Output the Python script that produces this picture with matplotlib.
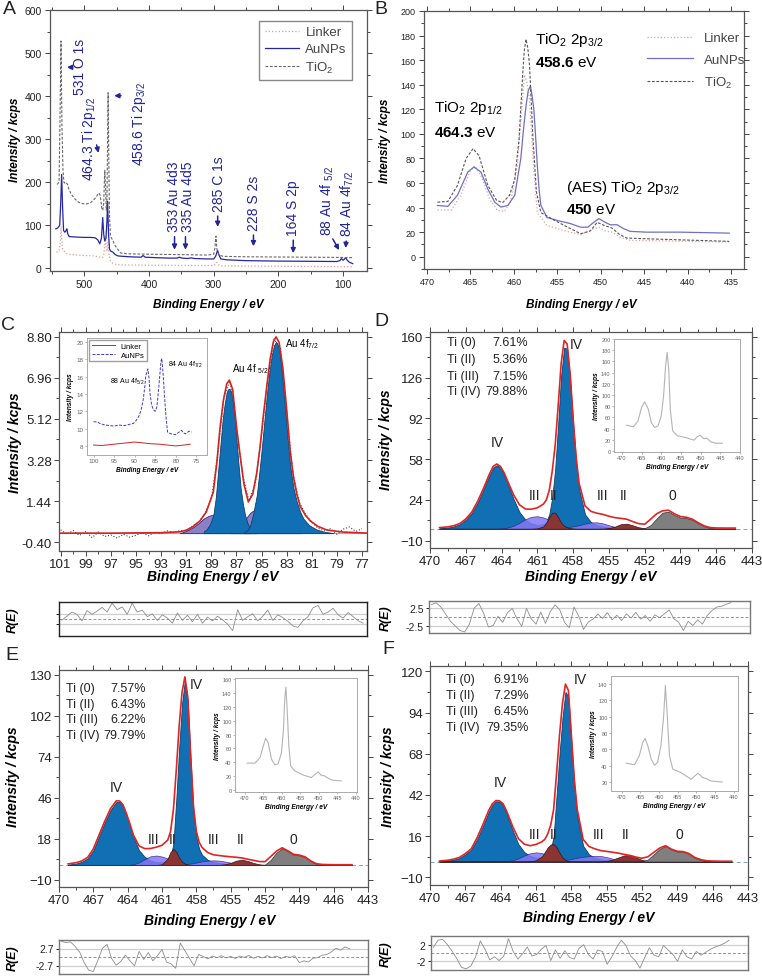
import matplotlib
matplotlib.use("Agg")
import matplotlib.pyplot as plt
from matplotlib.ticker import AutoMinorLocator

plt.rcParams["font.family"] = ["Liberation Sans", "DejaVu Sans"]
plt.rcParams["mathtext.fontset"] = "custom"
plt.rcParams["mathtext.rm"] = "Liberation Sans"
plt.rcParams["mathtext.it"] = "Liberation Sans:italic"
plt.rcParams["mathtext.bf"] = "Liberation Sans:bold"

# ---------------- panel A : survey spectra (as drawn in the picture)
a_au_x = [544, 541, 538, 536.5, 535, 533.5, 532, 530, 528, 527, 525.5, 523.5, 515, 500, 490, 483,
          479, 476, 473.5, 471.5, 470, 468.5, 466.5, 465, 464, 462.5, 461, 459, 456, 452, 448, 440,
          430, 412, 409, 406, 390, 370, 356, 353, 349, 340, 335, 330, 310, 300, 297, 294, 291.5,
          289, 280, 250, 200, 150, 110, 105, 102.5, 100, 97.5, 96, 94, 91, 88, 85]
a_au_y = [92, 94, 100, 150, 218, 140, 88, 84, 88, 92, 80, 74, 73, 72, 72, 71,
          66, 57, 70, 118, 80, 64, 70, 110, 155, 80, 45, 40, 38, 32, 29, 28,
          27, 26, 30, 26, 25, 24, 24, 26, 24, 23, 24.5, 23, 22, 22, 28, 42, 30,
          22, 20, 18, 17, 16.5, 16, 18, 23, 19, 22, 25, 20, 15, 13, 11]
a_ti_x = [542, 539, 537.5, 536, 534.5, 533, 531.5, 530, 528, 526, 524, 520, 515, 510, 505, 500,
          495, 490, 485, 481, 478, 476, 474.5, 473, 471.5, 470, 469, 468.3, 467.2, 466, 465, 464,
          463.2, 462.2, 461, 459.5, 457, 452, 447, 444, 435, 400, 350, 310, 300, 298, 296.5, 295,
          292, 285, 250, 200, 150, 100, 90, 85]
a_ti_y = [195, 200, 350, 528, 330, 230, 200, 198, 200, 195, 185, 172, 162, 155, 151, 150,
          150, 153, 160, 167, 175, 172, 160, 140, 135, 150, 200, 228, 190, 135, 150, 300,
          408, 260, 120, 75, 68, 52, 42, 36, 34, 33, 32, 31, 33, 48, 75, 45,
          31, 28, 27, 26.5, 26, 25.5, 25, 25]
a_li_x = [543, 539, 537, 536, 535, 533.5, 531, 527, 520, 500, 485, 478, 472, 470, 468, 467,
          466, 464.5, 463.5, 462, 460, 456, 450, 440, 400, 300, 297, 295, 293, 290, 250, 200,
          150, 100, 85]
a_li_y = [38, 40, 60, 98, 70, 45, 40, 34, 32, 30, 29, 27, 25, 30, 60, 72,
          45, 40, 62, 35, 18, 12, 9, 8, 7.5, 6.5, 10, 14, 9, 6, 5.5, 5,
          4.5, 4, 4]

# ---------------- panel B : Ti 2p region
b_au_x = [468.8, 467.6, 466.5, 465.3, 464.6, 463.8, 463.0, 462.2, 461.5, 460.7, 459.9, 459.2,
          458.9, 458.6, 458.35, 458.1, 457.9, 457.7, 457.5, 457.3, 457.1, 456.9, 456.2, 455.0,
          453.5, 452.3, 451.5, 450.8, 450.2, 449.5, 448.9, 448.1, 447.4, 446.6, 444.7, 440.9, 435.2]
b_au_y = [41.7, 41, 50, 69, 73, 69, 55, 44.4, 40.4, 41.7, 50, 80,
          103, 123, 135, 139, 131, 120, 98, 74, 55, 42, 32, 29.5,
          27, 24, 24, 28, 31, 28, 26, 26, 23, 20.6, 20, 20, 19.2]
b_ti_x = [468.8, 467.6, 466.5, 465.5, 464.7, 464.0, 463.0, 462.0, 461.3, 460.5, 459.9, 459.4,
          459.0, 458.8, 458.6, 458.4, 458.2, 457.8, 457.4, 456.9, 455.3, 453.8, 452.3, 451.2,
          450.4, 449.6, 448.7, 447.8, 447.0, 444.7, 435.2]
b_ti_y = [44.4, 45, 58, 80, 88, 82, 58, 46, 44, 50, 63, 96,
          147, 168, 177, 170, 156, 96, 52.6, 36, 29.5, 24, 18.7, 21,
          28, 25.5, 23.3, 17.9, 15.2, 14.6, 12.5]
b_li_x = [468.8, 467.2, 466.1, 465.1, 464.5, 463.8, 462.8, 461.9, 461.1, 460.4, 459.6, 459.0,
          458.8, 458.5, 458.2, 457.7, 457.3, 456.2, 454.3, 452.3, 450.8, 450.2, 449.5, 448.7,
          447.8, 446.6, 435.2]
b_li_y = [38, 38, 50, 69, 74, 66, 47, 37.7, 36.9, 44.4, 74, 128,
          148, 142, 128, 69, 36, 25.5, 21.4, 17.9, 22.8, 24, 21, 20,
          16, 13.3, 12]

# ---------------- panel C : Au 4f fit
c_data_x = [101, 100.5, 100, 99.5, 99, 98.5, 98, 97.5, 97, 96.5, 96, 95.5, 95, 94.5, 94, 93.5,
            93, 92.5, 92, 91.5, 91, 90.5, 90, 89.5, 89, 88.5, 88, 87.5, 87, 86.5, 86, 85.5,
            85, 84.5, 84, 83.5, 83, 82.5, 82, 81.5, 81, 80.5, 80, 79.5, 79, 78.5, 78, 77.5, 77]
c_data_y = [0.15, -0.05, 0.12, -0.10, 0.08, -0.20, 0.05, -0.15, -0.08, -0.22, -0.05, -0.18,
            -0.10, 0.02, -0.12, 0.05, -0.02, 0.10, 0.03, 0.12, 0.10, 0.32, 0.5, 0.9, 1.5, 3.5,
            6.1, 6.8, 4.8, 2.6, 1.45, 2.2, 4.4, 6.9, 8.7, 8.3, 5.4, 2.7, 1.4, 0.85, 0.5, 0.22,
            0.1, 0.2, -0.05, 0.18, 0.28, 0.08, 0.2]
c_env_x = [101.0, 97.0, 93.0, 91.5, 90.97, 90.44, 89.90, 89.4, 88.84, 88.55, 88.31, 88.04, 87.77,
           87.56, 87.30, 86.98, 86.71, 86.4, 86.05, 85.7, 85.38, 85.11, 84.85, 84.58, 84.3, 84.05,
           83.84, 83.6, 83.3, 82.99, 82.72, 82.45, 82.19, 81.92, 81.5, 81.12, 80.5, 79.79, 78.5, 76.6]
c_env_y = [0.0, 0.0, 0.02, 0.06, 0.14, 0.30, 0.55, 0.95, 1.85, 3.2, 4.7, 5.95, 6.7,
           6.86, 6.45, 4.7, 3.5, 2.2, 1.4, 1.75, 2.7, 3.9, 5.3, 6.6, 7.85, 8.6,
           8.80, 8.55, 7.4, 5.5, 3.7, 2.5, 1.75, 1.2, 0.8, 0.55, 0.3, 0.14, 0.05, 0.0]
c_b2_x = [89.6, 89.37, 89.1, 88.84, 88.64, 88.44, 88.25, 88.09, 87.92, 87.77, 87.66, 87.56,
          87.45, 87.30, 87.14, 86.98, 86.82, 86.66, 86.48, 86.31, 86.1, 85.91, 85.6, 85.38]
c_b2_y = [0.08, 0.17, 0.40, 0.80, 1.6, 2.89, 4.1, 5.13, 5.85, 6.33, 6.45, 6.48,
          6.38, 6.03, 5.2, 4.09, 3.0, 1.99, 1.3, 0.80, 0.42, 0.20, 0.06, 0.0]
c_b1_x = [86.4, 86.1, 85.91, 85.65, 85.38, 85.18, 84.98, 84.78, 84.58, 84.38, 84.18, 84.0, 83.84,
          83.68, 83.52, 83.32, 83.12, 82.92, 82.72, 82.45, 82.19, 81.92, 81.65, 81.2, 80.59, 80.0, 79.26]
c_b1_y = [0.02, 0.15, 0.34, 0.9, 1.69, 2.7, 3.79, 5.0, 6.18, 7.2, 7.98, 8.42, 8.58,
          8.42, 7.98, 6.9, 5.58, 4.25, 3.04, 2.0, 1.4, 0.95, 0.64, 0.35, 0.16, 0.06, 0.0]
c_p1_x = [91.5, 91.0, 90.44, 90.0, 89.64, 89.2, 88.84, 88.45, 88.04, 87.6, 87.24, 86.8, 86.44, 85.9]
c_p1_y = [0.0, 0.1, 0.27, 0.45, 0.64, 0.78, 0.83, 0.78, 0.64, 0.45, 0.27, 0.12, 0.06, 0.0]
c_p2_x = [87.5, 87.1, 86.71, 86.3, 85.91, 85.55, 85.25, 84.9, 84.58, 84.2, 83.78, 83.4, 82.99, 82.4, 81.9]
c_p2_y = [0.0, 0.14, 0.34, 0.62, 0.91, 1.05, 1.10, 1.02, 0.80, 0.55, 0.34, 0.17, 0.06, 0.02, 0.0]
c_ticks = [-0.40, 1.44, 3.28, 5.12, 6.96, 8.80]

# C inset
cin_au_x = [100, 99, 98.5, 97.5, 96.1, 95, 93.7, 92.5, 91.2, 90.3, 89.7, 88.9, 88.4, 87.9, 87.5,
            87.3, 86.8, 86.5, 86.3, 85.9, 85.5, 85.0, 84.6, 84.4, 84.0, 83.6, 83.4, 83.1, 82.8,
            82.4, 82.0, 81.2, 80.0, 79.2, 78.6, 78.1, 77.6, 76.8, 76.1]
cin_au_y = [10.8, 10.75, 10.6, 10.45, 10.35, 10.3, 10.4, 10.35, 10.5, 10.6, 10.9, 11.5, 12.2, 13.4,
            15.0, 16.1, 16.9, 15.8, 14.2, 12.8, 12.2, 12.0, 12.5, 13.4, 15.5, 17.8, 18.1, 16.5,
            14.2, 11.5, 9.6, 9.4, 9.3, 9.6, 9.8, 9.5, 9.4, 9.7, 9.6]
cin_li_x = [100, 98, 96, 94, 92, 90, 88, 86, 84, 82, 80, 78, 76.5]
cin_li_y = [8.1, 8.05, 8.15, 8.25, 8.35, 8.45, 8.35, 8.25, 8.2, 8.1, 8.0, 8.1, 8.2]

# ---------------- panels D, E, F : Ti 2p fits (shared energy grid)
fit_x = [469.2, 468.5, 468.0, 467.5, 467.0, 466.5, 466.0, 465.5, 465.0, 464.7,
         464.4, 464.1, 463.8, 463.5, 463.0, 462.5, 462.0, 461.5, 461.0, 460.5,
         460.25, 460.0, 459.75, 459.5, 459.25, 459.0, 458.75, 458.5, 458.25, 458.0, 457.75,
         457.5, 457.0, 456.5, 456.0, 455.5, 455.0, 454.5, 454.0, 453.5, 453.0,
         452.5, 452.0, 451.5, 451.0, 450.5, 450.0, 449.5, 449.0, 448.5, 448.0,
         447.5, 447.0, 446.5, 446.0, 445.2, 444.4]

d_ti4 = [0.4, 1.0, 2.0, 3.8, 7.5, 13, 22, 33, 45, 51,
         53, 51, 45.5, 38, 25, 14, 7.5, 4.5, 3.2, 3.8,
         6, 12, 26, 50, 88, 128, 151, 150, 125, 88, 56,
         33, 12, 5.5, 3, 1.8, 1.2, 0.8, 0.6, 0.4, 0.3,
         0.2, 0.2, 0.1, 0.1, 0, 0, 0, 0, 0, 0,
         0, 0, 0, 0, 0, 0]
d_ti3 = [0, 0, 0, 0, 0, 0, 0, 0, 0, 0,
         0, 0.2, 0.5, 1, 2.5, 5, 8, 10, 10.5, 9.5,
         8.5, 7, 5.5, 4, 3, 2.2, 1.7, 1.5, 1.6, 2, 2.5,
         3, 4.3, 5.3, 5.4, 4.5, 3, 1.6, 0.7, 0.3, 0.1,
         0, 0, 0, 0, 0, 0, 0, 0, 0, 0,
         0, 0, 0, 0, 0, 0]
d_ti2 = [0, 0, 0, 0, 0, 0, 0, 0, 0, 0,
         0, 0, 0, 0, 0, 0, 0, 0, 0.3, 2,
         5, 9.5, 13.5, 13.5, 9.5, 5, 2.5, 1.2, 0.5, 0.2, 0,
         0, 0, 0, 0, 0.1, 0.6, 1.8, 3.8, 4.3, 2.9,
         1.3, 0.4, 0.1, 0, 0, 0, 0, 0, 0, 0,
         0, 0, 0, 0, 0, 0]
d_ti0 = [0, 0, 0, 0, 0, 0, 0, 0, 0, 0,
         0, 0, 0, 0, 0, 0, 0, 0, 0, 0,
         0, 0, 0, 0, 0, 0, 0, 0, 0, 0, 0,
         0, 0, 0, 0, 0, 0, 0, 0, 0, 0,
         0.1, 0.5, 3, 8.5, 13.5, 14.2, 11.5, 9.3, 9.0, 7.5,
         4.5, 2, 0.6, 0.2, 0, 0]
d_env = [1.0, 1.6, 2.6, 4.4, 8.2, 13.8, 23, 34, 46, 52,
         54, 52, 47, 40, 28.5, 20, 16.5, 16.3, 17.5, 20.5,
         24, 32, 48, 70, 103, 138, 157, 154, 129, 92, 60,
         38, 19, 14.5, 13, 12, 10.5, 9.3, 8.7, 8.0, 6,
         4.3, 3.8, 8, 12.5, 15, 15.5, 12.5, 10.2, 9.6, 8.0,
         5, 2.4, 1.0, 0.7, 0.6, 0.6]

e_ti4 = [0.3, 1.0, 2.2, 4.5, 10, 19.5, 29, 37.5, 43, 43,
         40, 34, 27, 19, 10, 5.5, 3, 2, 1.8, 2.8,
         5, 15, 45, 80, 110, 126, 112, 72, 37, 19, 11,
         7, 3.5, 2, 1.3, 0.9, 0.6, 0.4, 0.3, 0.2, 0.1,
         0, 0, 0, 0, 0, 0, 0, 0, 0, 0,
         0, 0, 0, 0, 0, 0]
e_ti3 = [0, 0, 0, 0, 0, 0, 0, 0, 0, 0,
         0, 0, 0.2, 0.5, 1.8, 4, 6, 6.5, 5.8, 4.5,
         3.6, 2.8, 2, 1.4, 1, 0.8, 0.8, 1, 1.3, 1.7, 2.1,
         2.5, 3.0, 3.2, 3.0, 2.4, 1.6, 0.8, 0.3, 0.1, 0,
         0, 0, 0, 0, 0, 0, 0, 0, 0, 0,
         0, 0, 0, 0, 0, 0]
e_ti2 = [0, 0, 0, 0, 0, 0, 0, 0, 0, 0,
         0, 0, 0, 0, 0, 0, 0, 0, 0.5, 4.5,
         9, 11, 9, 5, 2.2, 0.9, 0.3, 0.1, 0, 0, 0,
         0, 0, 0, 0.1, 0.5, 1.5, 3.0, 3.6, 2.8, 1.4,
         0.5, 0.1, 0, 0, 0, 0, 0, 0, 0, 0,
         0, 0, 0, 0, 0, 0]
e_ti0 = [0, 0, 0, 0, 0, 0, 0, 0, 0, 0,
         0, 0, 0, 0, 0, 0, 0, 0, 0, 0,
         0, 0, 0, 0, 0, 0, 0, 0, 0, 0, 0,
         0, 0, 0, 0, 0, 0, 0, 0, 0, 0,
         0, 0.3, 3.5, 8.5, 11.4, 9.3, 7, 6.6, 5.4, 2.5,
         0.7, 0.2, 0, 0, 0, 0]
e_env = [0.8, 1.6, 2.8, 5.2, 11, 20.5, 30, 38.5, 43.8, 43.8,
         41, 35, 28, 20.5, 13, 11.2, 11.3, 12.2, 13.5, 17,
         23, 38, 65, 95, 118, 128.5, 115, 75, 40, 23, 15.5,
         12, 8.5, 7, 6.5, 6.0, 5.6, 5.3, 4.8, 4.0, 3.2,
         2.4, 2.3, 5.8, 9.5, 11.8, 9.7, 7.3, 6.8, 5.6, 2.8,
         0.9, 0.4, 0.3, 0.2, 0.2, 0.2]

f_ti4 = [0.2, 0.6, 1.2, 2.2, 4.5, 7.5, 14, 22.5, 31.5, 35.8,
         38, 37.8, 35.5, 30.5, 20, 11, 6, 3.5, 2.5, 2.6,
         3.2, 4.5, 7.5, 16, 42, 68, 91, 107, 104, 76, 48,
         29, 10, 4.5, 2.4, 1.4, 0.9, 0.6, 0.4, 0.3, 0.2,
         0.1, 0, 0, 0, 0, 0, 0, 0, 0, 0,
         0, 0, 0, 0, 0, 0]
f_ti3 = [0, 0, 0, 0, 0, 0, 0, 0, 0, 0,
         0, 0, 0, 0.2, 0.8, 2, 3.8, 5.2, 5.8, 5.4,
         4.6, 3.8, 2.9, 2.1, 1.5, 1.1, 1.0, 1.0, 1.2, 1.6, 2.0,
         2.4, 3.0, 3.4, 3.6, 3.5, 2.8, 1.8, 0.9, 0.4, 0.1,
         0, 0, 0, 0, 0, 0, 0, 0, 0, 0,
         0, 0, 0, 0, 0, 0]
f_ti2 = [0, 0, 0, 0, 0, 0, 0, 0, 0, 0,
         0, 0, 0, 0, 0, 0, 0, 0.1, 0.8, 3.2,
         6, 9, 10.8, 11, 9, 5.5, 2.6, 1.0, 0.3, 0.1, 0,
         0, 0, 0, 0, 0.1, 0.4, 1.2, 2.6, 3.9, 4.1,
         2.6, 1.0, 0.3, 0.1, 0, 0, 0, 0, 0, 0,
         0, 0, 0, 0, 0, 0]
f_ti0 = [0, 0, 0, 0, 0, 0, 0, 0, 0, 0,
         0, 0, 0, 0, 0, 0, 0, 0, 0, 0,
         0, 0, 0, 0, 0, 0, 0, 0, 0, 0, 0,
         0, 0, 0, 0, 0, 0, 0, 0, 0, 0,
         0, 0.2, 1.3, 4.5, 8, 9.8, 7.6, 6.3, 6.2, 4.8,
         2.2, 0.9, 0.3, 0.1, 0, 0]
f_env = [0.3, 0.8, 1.5, 2.6, 5, 8, 15, 23.5, 32.5, 36.5,
         38.5, 38.3, 36.5, 32, 22.5, 14.5, 11, 10, 10.8, 12.5,
         14, 17.5, 23, 33, 56, 80, 100, 112, 108, 80, 52,
         33, 14, 9.5, 8, 6.9, 6.4, 5.9, 5.3, 4.5, 3.8,
         2.8, 2.1, 3, 5.8, 8.5, 10, 7.8, 6.5, 6.3, 5,
         2.5, 1.2, 0.5, 0.3, 0.2, 0.2]

d_pct = ["7.61%", "5.36%", "7.15%", "79.88%"]
e_pct = ["7.57%", "6.43%", "6.22%", "79.79%"]
f_pct = ["6.91%", "7.29%", "6.45%", "79.35%"]
ti_states = ["Ti (0)", "Ti (II)", "Ti (III)", "Ti (IV)"]

# insets of D, E, F (raw Ti 2p spectra)
din_x = [468.75, 467.1, 465.9, 465.0, 464.2, 463.3, 462.5, 461.7, 460.8, 460.0, 459.4, 458.9, 458.5,
         458.1, 457.7, 457.1, 455.9, 453.8, 451.7, 450.8, 450.1, 449.3, 448.4, 447.4, 446.2, 444.5]
din_y = [46, 43, 53.7, 77.6, 87.8, 74.6, 50.7, 41.8, 44.8, 62.7, 98.5, 152, 176,
         146, 74.6, 35.8, 26.9, 23.9, 19.1, 25.7, 28, 22, 22.7, 16.1, 13.7, 13.7]
ein_x = [469.4, 467.3, 465.9, 465.0, 464.4, 463.7, 462.8, 461.9, 461.0, 460.1, 459.6, 459.2, 458.9,
         458.6, 458.1, 457.6, 456.5, 454.2, 452.0, 450.8, 450.2, 449.3, 448.4, 447.0, 446.1, 443.9]
ein_y = [39, 39, 47, 64, 74.5, 68, 44.7, 36.5, 38, 54, 83, 131, 148,
         121.6, 64, 35, 27.9, 22, 18.3, 23.6, 26.4, 21.6, 20.7, 15.9, 14.4, 13.5]
fin_x = [468.8, 466.6, 465.3, 464.4, 463.75, 463.0, 462.1, 461.25, 460.4, 459.5, 458.75, 458.3,
         457.9, 457.2, 456.3, 454.1, 451.4, 450.1, 449.5, 448.3, 447.4, 446.1, 443.0]
fin_y = [43, 41, 52, 68, 73.3, 64, 48, 40.5, 43.8, 64, 101, 138,
         109, 52, 35.6, 31.5, 23.3, 28.6, 30.7, 25.3, 24.5, 21.2, 20]

# residuals
res_x = [469.8, 469.4, 469.0, 468.6, 468.2, 467.8, 467.4, 467.0, 466.6, 466.2,
         465.8, 465.4, 465.0, 464.6, 464.2, 463.8, 463.4, 463.0, 462.6, 462.2,
         461.8, 461.4, 461.0, 460.6, 460.2, 459.8, 459.4, 459.0, 458.6, 458.2,
         457.8, 457.4, 457.0, 456.6, 456.2, 455.8, 455.4, 455.0, 454.6, 454.2,
         453.8, 453.4, 453.0, 452.6, 452.2, 451.8, 451.4, 451.0, 450.6, 450.2,
         449.8, 449.4, 449.0, 448.6, 448.2, 447.8, 447.4, 447.0, 446.6, 446.2,
         445.8, 445.4, 445.0, 444.6]
res_d = [3.5, 4.0, 2.8, 0.8, -1.2, -2.5, -3.8, -4.2, -2.0, 2.5,
         3.8, 1.0, -2.8, -2.4, 0.2, -1.5, 1.2, 2.4, -0.5, -2.6,
         2.4, -0.5, -2.0, 1.4, -1.8, 1.5, 3.4, 2.0, -1.5, -3.0,
         2.8, 0.2, -3.5, -1.4, -0.6, 0.8, -0.4, 1.2, -0.8, 0.5,
         -1.0, 0.9, -0.3, 1.3, -0.6, 0.4, -1.2, 0.6, -0.2, 0.9,
         2.0, -0.5, -1.5, -3.8, -1.2, -2.4, -0.8, -2.0, 0.4, 1.8,
         2.8, 3.0, 3.6, 4.0]
res_e = [5.0, 4.6, 4.8, 3.4, 1.6, -1.8, -4.2, -4.6, -1.0, 2.8,
         4.0, -0.5, -2.6, -1.4, 0.6, -1.2, -2.8, 1.8, -0.8, 1.4,
         -1.2, 0.4, 2.4, -1.6, -2.2, -3.6, 4.4, 2.0, -0.4, -2.8,
         0.8, 0.2, -0.6, 0.3, -0.2, 0.4, -0.3, 0.2, -0.5, 0.3,
         -0.1, 0.5, -0.4, 0.2, -0.3, 0.4, -0.2, 0.3, -0.5, 0.2,
         -0.1, 0.4, -1.8, -1.2, -1.6, -0.4, -0.2, 0.6, 0.8, 1.6,
         2.8, 2.2, 3.2, 2.6]
res_f = [1.5, 3.4, 3.6, 2.2, 0.5, -1.5, -3.8, -4.2, -3.4, -1.0,
         3.2, 1.0, -1.8, -1.0, -2.0, -0.8, 3.8, 0.4, -1.6, -0.2,
         1.6, -0.8, -0.4, 1.0, 2.0, -2.0, 0.8, -1.4, 0.6, -1.2,
         -1.6, 1.2, 2.2, -0.4, -1.6, 0.8, 0.4, -3.0, -1.0, 1.4,
         3.4, 2.0, -0.8, -2.0, -4.0, -1.2, 1.4, -0.6, -1.0, 2.0,
         0.8, -0.4, -2.2, 0.8, -1.0, -1.6, 0.4, -0.6, 0.2, 1.0,
         1.6, 2.0, 2.6, 3.4]
c_res_x = [100.9, 100.5, 100.1, 99.7, 99.3, 98.9, 98.5, 98.1, 97.7, 97.3,
           96.9, 96.5, 96.1, 95.7, 95.3, 94.9, 94.5, 94.1, 93.7, 93.3,
           92.9, 92.5, 92.1, 91.7, 91.3, 90.9, 90.5, 90.1, 89.7, 89.3,
           88.9, 88.5, 88.1, 87.7, 87.3, 86.9, 86.5, 86.1, 85.7, 85.3,
           84.9, 84.5, 84.1, 83.7, 83.3, 82.9, 82.5, 82.1, 81.7, 81.3,
           80.9, 80.5, 80.1, 79.7, 79.3, 78.9, 78.5, 78.1, 77.7, 77.3, 76.9]
res_c = [-0.5, 1.2, 3.0, 2.0, -0.8, 3.6, 2.0, 3.4, 5.0, 3.0,
         6.8, 4.0, 5.2, 2.0, 6.8, 3.0, 3.8, 1.0, 2.2, -0.6,
         1.8, 0.4, -1.8, 2.6, -0.6, 1.6, -1.2, 2.0, -1.8, 0.8,
         -0.8, 1.2, -0.4, -2.2, -5.0, 4.0, -0.6, 1.0, 2.2, -0.8,
         1.2, 3.8, -0.6, 1.8, 0.6, -1.0, -3.0, -3.6, -0.8, 1.0,
         4.8, 5.8, 2.0, 3.0, 4.6, 1.8, 0.4, 2.8, 1.0, -0.8, -1.8]

# ------------------------------------------------------------------
W, H = 762, 978
fig = plt.figure(figsize=(W / 100, H / 100), dpi=100)
NAVY = "#23239a"
BI = dict(fontweight="bold", fontstyle="italic")
TI_X = [470, 467, 464, 461, 458, 455, 452, 449, 446, 443]


def add_px(l, t, r, b):
    return fig.add_axes([l / W, 1 - b / H, (r - l) / W, (b - t) / H])


def ftext(x, y, s, **kw):
    fig.text(x / W, 1 - y / H, s, ha="center", va="center", **kw)


def style(ax, fs, pad=2.0):
    ax.xaxis.set_minor_locator(AutoMinorLocator(2))
    ax.yaxis.set_minor_locator(AutoMinorLocator(2))
    ax.tick_params(which="both", direction="out", labelsize=fs, top=True, right=True,
                   width=0.7, color="#444", labelcolor="#222", pad=pad)
    ax.tick_params(which="major", length=3.5)
    ax.tick_params(which="minor", length=2)
    for s in ax.spines.values():
        s.set_color("#555")
        s.set_linewidth(0.9)


def inset_style(ax, fs):
    ax.tick_params(which="both", direction="out", labelsize=fs, width=0.5, length=1.5,
                   color="#999", labelcolor="#666", pad=1)
    for s in ax.spines.values():
        s.set_color("#aaa")
        s.set_linewidth(0.7)


# ---- A
ax = add_px(50, 11, 367, 272)
ax.plot(a_li_x, a_li_y, color="#e49a9a", lw=0.9, ls=":", label="Linker")
ax.plot(a_au_x, a_au_y, color="#2626a6", lw=0.9, label="AuNPs")
ax.plot(a_ti_x, a_ti_y, color="#666666", lw=0.8, ls=(0, (2.5, 1.5)), label="TiO$_2$")
ax.set_xlim(553, 63)
ax.set_ylim(-6, 600)
ax.set_xticks([500, 400, 300, 200, 100])
ax.set_yticks([0, 100, 200, 300, 400, 500, 600])
style(ax, 7.5, pad=2.5)
leg = ax.legend(loc="upper right", bbox_to_anchor=(0.953, 0.958), borderaxespad=0,
                fontsize=9.5, handlelength=2.6, handletextpad=0.5, labelspacing=0.35,
                fancybox=False, edgecolor="#888", framealpha=1)
for t in leg.get_texts():
    t.set_color("#444")


def note(txt, tx, ty, p0, p1, va="center"):
    ax.text(tx, ty, txt, rotation=90, ha="center", va=va, color=NAVY, fontsize=10)
    ax.annotate("", xy=p1, xytext=p0,
                arrowprops=dict(arrowstyle="-|>", color=NAVY, lw=1.1, mutation_scale=7))


note("531 O 1s", 506.7, 471, (514, 467), (531, 467))
note("464.3 Ti 2p$_{1/2}$", 492.3, 304, (482, 293), (477, 262))
note("458.6 Ti 2p$_{3/2}$", 415.4, 339, (439, 401), (458, 401))
note("353 Au 4d3", 361.5, 86, (360.5, 80), (360.5, 37), va="bottom")
note("335 Au 4d5", 340, 86, (343.6, 80), (343.6, 37), va="bottom")
note("285 C 1s", 292.3, 134, (293.8, 128), (293.8, 90), va="bottom")
note("228 S 2s", 237.4, 90, (238.5, 84), (238.5, 45), va="bottom")
note("164 S 2p", 177, 78, (177, 72), (177, 29), va="bottom")
note("88 Au 4f $_{5/2}$", 124.6, 78, (118, 74), (104, 37), va="bottom")
note("84 Au 4f$_{7/2}$", 93.8, 76, (94.9, 70), (96.4, 41), va="bottom")
ftext(208, 305, "Binding Energy / eV", fontsize=8.5, **BI)
ftext(15, 140, "Intensity / kcps", fontsize=8.5, rotation=90, **BI)

# ---- B
ax = add_px(424, 12, 744, 270)
ax.plot(b_li_x, b_li_y, color="#e3a3a3", lw=0.9, ls=":", label="Linker")
ax.plot(b_au_x, b_au_y, color="#6f6fc4", lw=0.9, label="AuNPs")
ax.plot(b_ti_x, b_ti_y, color="#555555", lw=0.8, ls=(0, (2.5, 1.5)), label="TiO$_2$")
ax.set_xlim(470.35, 433.5)
ax.set_ylim(-10, 200)
ax.set_xticks([470, 465, 460, 455, 450, 445, 440, 435])
ax.set_yticks(list(range(0, 201, 20)))
style(ax, 6.5, pad=2.5)
leg = ax.legend(loc="upper left", bbox_to_anchor=(0.66, 0.965), frameon=False, fontsize=9.5,
                handlelength=3.5, labelspacing=0.7)
for t in leg.get_texts():
    t.set_color("#444")
ax.text(457.6, 177, "TiO$_2$ 2p$_{3/2}$", fontsize=11, va="center")
ax.text(457.6, 158.5, r"$\mathbf{458.6}$ eV", fontsize=11, va="center")
ax.text(469.2, 122, "TiO$_2$ 2p$_{1/2}$", fontsize=11, va="center")
ax.text(469.2, 101.6, r"$\mathbf{464.3}$ eV", fontsize=11, va="center")
ax.text(454.0, 57, "(AES) TiO$_2$ 2p$_{3/2}$", fontsize=11, va="center")
ax.text(454.0, 39, r"$\mathbf{450}$ eV", fontsize=11, va="center")
ftext(581, 305, "Binding Energy / eV", fontsize=8.5, **BI)
ftext(385, 141, "Intensity / kcps", fontsize=8.5, rotation=90, **BI)

# ---- C
ax = add_px(59, 333, 367, 552)
BLUE, BLUE_E = "#1170b4", "#0c3f6b"
ax.fill_between(c_p1_x, 0, c_p1_y, color="#8a80c8", ec="#352a7a", lw=0.6, zorder=2)
ax.fill_between(c_p2_x, 0, c_p2_y, color="#8a80c8", ec="#352a7a", lw=0.6, zorder=2)
ax.fill_between(c_b2_x, 0, c_b2_y, color=BLUE, ec=BLUE_E, lw=0.6, zorder=3)
ax.fill_between(c_b1_x, 0, c_b1_y, color=BLUE, ec=BLUE_E, lw=0.6, zorder=3)
ax.axhline(0, color="#9aaed0", lw=0.8, zorder=1)
ax.plot(c_data_x, c_data_y, color="#444", lw=0.8, ls=":", zorder=4)
ax.plot(c_env_x, c_env_y, color="#d42222", lw=1.2, zorder=5)
ax.set_xlim(101.13, 76.6)
ax.set_ylim(-0.8, 9.02)
ax.set_xticks(list(range(101, 76, -2)))
ax.set_yticks(c_ticks)
ax.set_yticklabels(["%.2f" % v for v in c_ticks])
style(ax, 9.5, pad=1.5)
ax.text(87.38, 7.38, "Au 4f $_{5/2}$", fontsize=7, va="center")
ax.text(83.12, 8.5, "Au 4f$_{7/2}$", fontsize=7, va="center")
ftext(213, 577, "Binding Energy / eV", fontsize=10, **BI)
ftext(15, 443, "Intensity / kcps", fontsize=10, rotation=90, **BI)

axi = add_px(87, 339, 207, 456)
axi.plot(cin_li_x, cin_li_y, color="#d42222", lw=0.7, label="Linker")
axi.plot(cin_au_x, cin_au_y, color="#3a3ad0", lw=0.7, ls=(0, (3, 1.5)), label="AuNPs")
axi.set_xlim(101.6, 72.4)
axi.set_ylim(6.95, 20.47)
axi.set_xticks([100, 95, 90, 85, 80, 75])
axi.set_yticks([8, 10, 12, 14, 16, 18, 20])
inset_style(axi, 4.5)
axi.set_xlabel("Binding Energy / eV", fontsize=4.8, labelpad=1.5, **BI)
axi.set_ylabel("Intensity / kcps", fontsize=4.8, labelpad=1.5, **BI)
axi.legend(loc="upper left", fontsize=5.5, handlelength=3, fancybox=False, edgecolor="#888",
           borderpad=0.3, labelspacing=0.2, borderaxespad=0.3)
axi.text(96.1, 15.5, "88 Au 4f$_{5/2}$", fontsize=5, va="center")
axi.text(81.9, 17.5, "84 Au 4f$_{7/2}$", fontsize=5, va="center")


# ---- D, E, F
def fit_panel(rect, comps, env, ylim, yticks, pct, layout):
    ax = add_px(*rect)
    ti4, ti3, ti2, ti0 = comps
    ax.axhline(0, color="#7fa6a6", lw=0.7, ls=(0, (4, 3)), zorder=1)
    ax.fill_between(fit_x, 0, ti4, color=BLUE, ec=BLUE_E, lw=0.6, zorder=2)
    ax.fill_between(fit_x, 0, ti3, color="#8478f4", alpha=0.85, ec="#2e2080", lw=0.5, zorder=3)
    ax.fill_between(fit_x, 0, ti2, color="#8a3434", ec="#3a1010", lw=0.5, zorder=4)
    ax.fill_between(fit_x, 0, ti0, color="#7f7f7f", ec="#333333", lw=0.5, zorder=4)
    ax.plot(fit_x, env, color="#e02424", lw=1.2, zorder=5)
    ax.set_xlim(470, 443)
    ax.set_ylim(*ylim)
    ax.set_xticks(TI_X)
    ax.set_yticks(yticks)
    style(ax, 9.5, pad=1.5)
    tx, px, rows, lab = layout
    for s, p, ry in zip(ti_states, pct, rows):
        ax.text(tx, ry, s, fontsize=9, va="center", color="#222")
        ax.text(px, ry, p, fontsize=9, va="center", ha="right", color="#222")
    for s, x, y in lab:
        ax.text(x, y, s, fontsize=10, ha="center", va="center", color="#222", zorder=6)
    return ax


def inset_panel(rect, x, y, xlim, ylim, yticks):
    a = add_px(*rect)
    a.plot(x, y, color="#b4b4b4", lw=0.8)
    a.set_xlim(*xlim)
    a.set_ylim(*ylim)
    a.set_xticks([470, 465, 460, 455, 450, 445, 440])
    a.set_yticks(yticks)
    inset_style(a, 4)
    a.set_xlabel("Binding Energy / eV", fontsize=4.8, labelpad=1.5, **BI)
    a.set_ylabel("Intensity / kcps", fontsize=4.8, labelpad=1, **BI)


def resid_panel(rect, x, r, xlim, lim, level, labels, frame="#777"):
    a = add_px(*rect)
    a.axhline(level, color="#cfcfcf", lw=0.9)
    a.axhline(-level, color="#cfcfcf", lw=0.9)
    a.axhline(0, color="#6aa3a3", lw=0.7, ls=(0, (3, 2)))
    a.plot(x, r, color="#8c8c8c", lw=0.6)
    a.set_xlim(*xlim)
    a.set_ylim(-lim, lim)
    a.set_xticks([])
    a.set_yticks([level, -level])
    if labels:
        a.set_yticklabels(labels)
    else:
        a.set_yticklabels([])
    a.tick_params(axis="y", labelsize=7.5, length=2, width=0.6, pad=2, labelcolor="#222")
    for s in a.spines.values():
        s.set_color(frame)
        s.set_linewidth(1.0)
    return a


fit_panel((430, 333, 752, 549), (d_ti4, d_ti3, d_ti2, d_ti0), d_env, (-16, 164),
          [-10, 24, 58, 92, 126, 160], d_pct,
          (468.54, 461.8, [155.3, 141.4, 127.6, 115.1],
           [("IV", 464.34, 72.2), ("III", 461.2, 27.9), ("II", 459.6, 27.9), ("III", 455.5, 27.9),
            ("II", 453.8, 27.9), ("0", 449.7, 27.9), ("IV", 457.7, 153.9)]))
inset_panel((614, 340, 740, 453), din_x, din_y, (472, 440), (-2, 200), list(range(0, 201, 20)))
ftext(591, 577, "Binding Energy / eV", fontsize=10, **BI)
ftext(386, 440, "Intensity / kcps", fontsize=10, rotation=90, **BI)

fit_panel((59, 671, 368, 888), (e_ti4, e_ti3, e_ti2, e_ti0), e_env, (-15, 133.2),
          [-10, 18, 46, 74, 102, 130], e_pct,
          (469.36, 462.44, [121.2, 110.3, 99.6, 88.7],
           [("IV", 464.98, 53.1), ("III", 461.77, 17.9), ("II", 460.08, 17.9), ("III", 456.51, 17.9),
            ("II", 454.12, 17.9), ("0", 449.5, 17.9), ("IV", 457.97, 123.4)]))
inset_panel((235, 679, 357, 793), ein_x, ein_y, (472.7, 439.6), (-2.4, 161), list(range(0, 161, 20)))
ftext(210, 921, "Binding Energy / eV", fontsize=10, **BI)
ftext(13, 777, "Intensity / kcps", fontsize=10, rotation=90, **BI)

fit_panel((430, 667, 748, 886), (f_ti4, f_ti3, f_ti2, f_ti0), f_env, (-14.8, 123.4),
          [-10, 16, 42, 68, 94, 120], f_pct,
          (468.67, 461.6, [115.4, 105.3, 95.3, 85.2],
           [("IV", 464.06, 50), ("III", 461.11, 17.4), ("II", 459.47, 17.4), ("III", 455.65, 17.4),
            ("II", 453.39, 17.4), ("0", 448.8, 17.4), ("IV", 457.2, 115.4)]))
inset_panel((611, 677, 738, 792), fin_x, fin_y, (472.9, 438.8), (9, 149.5), list(range(20, 141, 20)))
ftext(589, 918, "Binding Energy / eV", fontsize=10, **BI)
ftext(388, 777, "Intensity / kcps", fontsize=10, rotation=90, **BI)

# residual strips
resid_panel((59, 603, 367, 637), c_res_x, res_c, (101.13, 76.6), 7.3, 2, None, frame="#222")
resid_panel((429, 602, 750, 634), res_x, res_d, (470, 443), 4.5, 2.5, ["2.5", "-2.5"])
resid_panel((59, 941, 368, 975), res_x, res_e, (470, 443), 5.4, 2.7, ["2.7", "-2.7"])
resid_panel((431, 937, 748, 971), res_x, res_f, (470, 443), 4.5, 2, ["2", "-2"])
for x, y in [(13, 620), (386, 618), (13, 958), (386, 954)]:
    ftext(x, y, "R(E)", fontsize=9, rotation=90, **BI)

# panel letters
for s, x, y in [("A", 9, 10), ("B", 381, 10), ("C", 8, 325), ("D", 381, 322), ("E", 12, 656), ("F", 388, 650)]:
    ftext(x, y, s, fontsize=14, color="#222")

fig.savefig("out.png", dpi=100)
